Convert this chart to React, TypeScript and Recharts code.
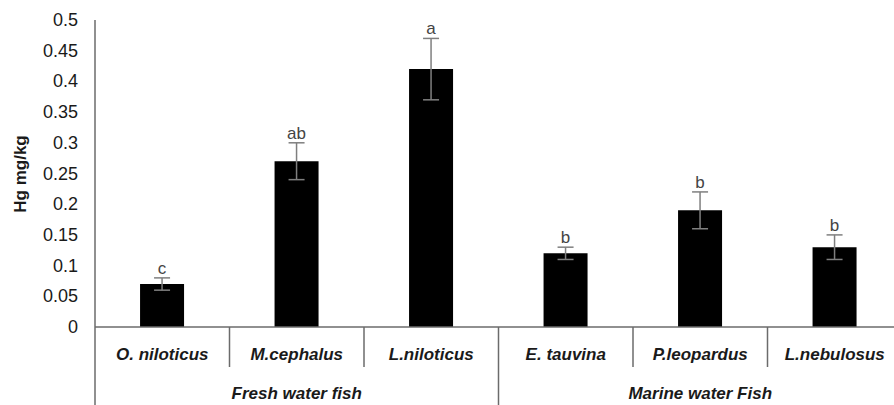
import { BarChart, Bar, XAxis, YAxis, ErrorBar, LabelList } from 'recharts'

const categories = ['O. niloticus', 'M.cephalus', 'L.niloticus', 'E. tauvina', 'P.leopardus', 'L.nebulosus']
const hgValues = [0.07, 0.27, 0.42, 0.12, 0.19, 0.13]
const hgErrors = [0.01, 0.03, 0.05, 0.01, 0.03, 0.02]
const letters = ['c', 'ab', 'a', 'b', 'b', 'b']
const groups = ['Fresh water fish', 'Marine water Fish']
const yTicks = [0, 0.05, 0.1, 0.15, 0.2, 0.25, 0.3, 0.35, 0.4, 0.45, 0.5]

const data = categories.map((name, i) => ({
  name,
  hg: hgValues[i],
  err: hgErrors[i],
  letter: letters[i],
}))

const CHART_W = 902
const CHART_H = 405
const TOP = 20
const X_AXIS_H = 78
const Y_AXIS_W = 95
const PLOT_BOTTOM = CHART_H - X_AXIS_H
const SLOT = (CHART_W - Y_AXIS_W) / categories.length
const FONT = '"Liberation Sans", Arial, sans-serif'
const AXIS_COLOR = '#6b6b6b'

const XTick = (props: any) => {
  const { x, payload } = props
  const i = payload.index
  const half = SLOT / 2
  const groupEnd = i % 3 === 2
  return (
    <g>
      <text
        x={x}
        y={354}
        textAnchor="middle"
        dominantBaseline="central"
        fontFamily={FONT}
        fontWeight="bold"
        fontStyle="italic"
        fontSize={17}
        fill="#1a1a1a"
      >
        {payload.value}
      </text>
      <line x1={x + half} x2={x + half} y1={PLOT_BOTTOM} y2={groupEnd ? CHART_H : 367} stroke={AXIS_COLOR} strokeWidth={1.5} />
      {i === 0 && <line x1={x - half} x2={x - half} y1={PLOT_BOTTOM} y2={CHART_H} stroke={AXIS_COLOR} strokeWidth={1.5} />}
      {i % 3 === 1 && (
        <text
          x={x}
          y={393}
          textAnchor="middle"
          dominantBaseline="central"
          fontFamily={FONT}
          fontWeight="bold"
          fontStyle="italic"
          fontSize={17}
          fill="#1a1a1a"
        >
          {groups[Math.floor(i / 3)]}
        </text>
      )}
    </g>
  )
}

const YTick = (props: any) => {
  const { y, payload } = props
  return (
    <text x={78} y={y} textAnchor="end" dominantBaseline="central" fontFamily={FONT} fontSize={18} fill="#1a1a1a">
      {String(+Number(payload.value).toFixed(2))}
    </text>
  )
}

const YTitle = () => (
  <text
    transform="translate(20,174) rotate(-90)"
    textAnchor="middle"
    dominantBaseline="central"
    fontFamily={FONT}
    fontWeight="bold"
    fontSize={17}
    fill="#1a1a1a"
  >
    Hg mg/kg
  </text>
)

const LetterLabel = (props: any) => {
  const vb = props.viewBox || props
  const { index } = props
  const x = vb.x
  const y = vb.y
  const w = vb.width
  const h = vb.height
  const perUnit = h / hgValues[index]
  const top = y - hgErrors[index] * perUnit
  return (
    <text x={x + w / 2} y={top - 4} textAnchor="middle" fontFamily={FONT} fontSize={17} fill="#444">
      {letters[index]}
    </text>
  )
}

export default function App() {
  return (
    <div style={{ position: 'absolute', left: 0, top: 0, width: 894, height: 405, overflow: 'hidden', background: '#fff' }}>
      <BarChart
        width={CHART_W}
        height={CHART_H}
        data={data}
        margin={{ top: TOP, right: 0, bottom: 0, left: 0 }}
        barCategoryGap="33.5%"
      >
        <XAxis
          dataKey="name"
          height={X_AXIS_H}
          interval={0}
          tickLine={false}
          axisLine={{ stroke: AXIS_COLOR, strokeWidth: 1.5 }}
          tick={<XTick />}
        />
        <YAxis
          width={Y_AXIS_W}
          domain={[0, 0.5]}
          ticks={yTicks}
          interval={0}
          tickLine={false}
          axisLine={{ stroke: AXIS_COLOR, strokeWidth: 1.5 }}
          tick={<YTick />}
          label={<YTitle />}
        />
        <Bar dataKey="hg" fill="#000" isAnimationActive={false}>
          <ErrorBar dataKey="err" width={8} stroke="#7f7f7f" strokeWidth={1.5} direction="y" isAnimationActive={false} />
          <LabelList dataKey="letter" content={<LetterLabel />} />
        </Bar>
      </BarChart>
    </div>
  )
}
